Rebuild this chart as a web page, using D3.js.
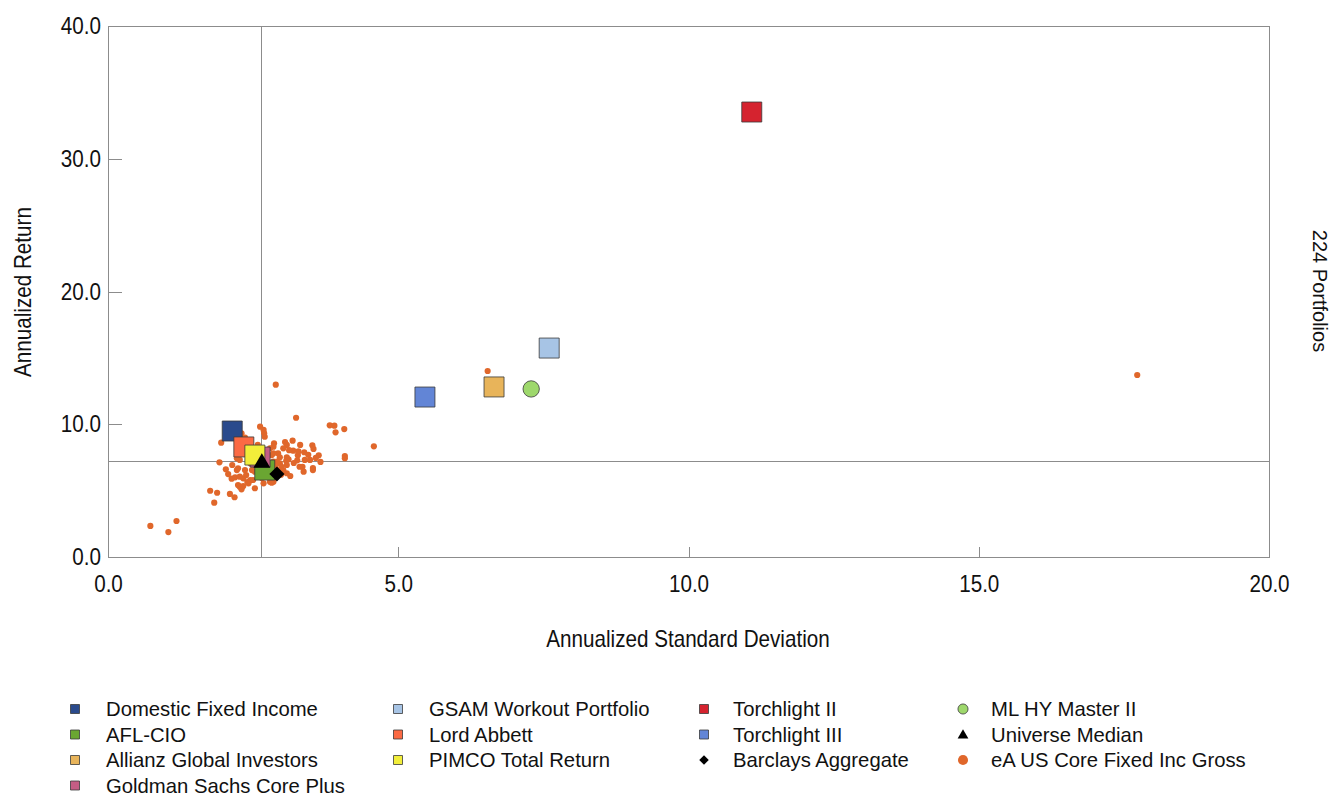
<!DOCTYPE html>
<html>
<head>
<meta charset="utf-8">
<script src="https://cdn.jsdelivr.net/npm/d3@7"></script>
<style>
  html, body { margin: 0; padding: 0; background: #fff; }
  svg { display: block; }
  .narrow { font-family: "Liberation Sans", Arial, sans-serif; }
  .reg { font-family: "Liberation Sans", Arial, sans-serif; }
</style>
</head>
<body>
<svg id="chart" width="1330" height="796"></svg>
<script>
// ---------- data ----------
const xTicks = [0, 5, 10, 15, 20];
const yTicks = [0, 10, 20, 30, 40];
const xTitle = "Annualized Standard Deviation";
const yTitle = "Annualized Return";
const sideNote = "224 Portfolios";

const medianStd = 2.65;
const medianReturn = 7.16;

const seriesNames = ["Domestic Fixed Income", "AFL-CIO", "Allianz Global Investors", "Goldman Sachs Core Plus",
  "GSAM Workout Portfolio", "Lord Abbett", "PIMCO Total Return",
  "Torchlight II", "Torchlight III", "Barclays Aggregate",
  "ML HY Master II", "Universe Median", "eA US Core Fixed Inc Gross"];
const seriesStd = [2.14, 2.70, 6.65, 2.62, 7.60, 2.34, 2.53, 11.09, 5.46, 2.91, 7.29, 2.65, null];
const seriesReturn = [9.49, 6.55, 12.81, 7.53, 15.74, 8.29, 7.68, 33.52, 12.05, 6.25, 12.66, 7.16, null];
const seriesColors = ["#2a4a8c", "#6aa632", "#e8b45a", "#c45d85", "#a7c4e5", "#fb6a44", "#f2ee3a",
  "#d5232f", "#6285d6", "#000000", "#9ed86c", "#000000", "#e0672b"];
const seriesShapes = ["square", "square", "square", "square", "square", "square", "square",
  "square", "square", "diamond", "circle", "triangle", "dot"];

const universeStd = [2.89, 3.24, 3.82, 3.90, 4.07, 3.92, 4.58, 2.62, 2.68, 2.69, 2.70, 1.95, 2.30, 2.86, 2.85,
  3.05, 3.08, 3.18, 3.02, 3.19, 3.38, 3.52, 3.54, 3.63, 3.27, 3.08, 3.07, 3.11, 2.93, 2.96, 2.85, 3.48, 3.66,
  4.08, 4.08, 3.26, 3.30, 3.35, 3.53, 3.37, 3.08, 3.08, 1.92, 2.03, 2.22, 2.13, 2.19, 2.27, 2.33, 2.24, 2.27,
  2.42, 2.45, 2.53, 2.50, 2.68, 2.79, 2.85, 1.76, 1.88, 2.10, 2.18, 1.83, 1.18, 0.73, 1.04, 2.27, 2.22, 2.45,
  2.36, 2.48, 2.53, 2.68, 2.59, 2.96, 3.02, 2.24, 2.42, 2.79, 2.82, 2.85, 2.36, 2.91, 2.88, 2.99, 2.96, 2.33,
  2.82, 3.53, 6.54, 17.73, 2.58, 2.72, 2.76, 2.65, 2.14, 2.07, 2.38, 2.55, 3.14, 3.20, 3.31, 3.39, 3.58,
  3.45, 3.12, 2.98, 3.28, 2.40, 2.30];
const universeReturn = [12.98, 10.49, 9.92, 9.89, 9.64, 9.39, 8.34, 9.82, 9.57, 9.32, 9.06, 8.61, 9.32, 8.56, 8.31,
  8.66, 8.44, 8.76, 8.19, 8.01, 7.89, 8.41, 8.14, 7.66, 7.66, 7.51, 7.25, 7.36, 7.81, 7.51, 7.81, 7.31, 7.16,
  7.61, 7.44, 7.28, 6.80, 6.80, 6.70, 6.43, 6.93, 6.31, 7.13, 6.61, 6.55, 5.90, 6.00, 6.05, 5.93, 5.42, 5.30,
  5.55, 5.80, 5.18, 5.80, 5.55, 5.67, 5.67, 4.99, 4.84, 4.75, 4.50, 4.09, 2.71, 2.34, 1.88, 7.31, 7.44, 7.06,
  6.55, 6.55, 6.43, 6.31, 6.05, 7.06, 6.55, 6.68, 7.18, 8.19, 7.68, 7.18, 8.99, 7.18, 6.80, 6.80, 6.55, 5.35,
  5.60, 6.55, 14.01, 13.71, 8.44, 6.86, 6.10, 5.95, 6.93, 6.25, 6.17, 6.93, 6.10, 7.08, 8.44, 7.31, 7.46,
  7.70, 8.05, 6.20, 7.95, 5.65, 5.10];

// ---------- layout ----------
(function () {
const svg = d3.select("#chart");
const pL = 108, pR = 1269, pT = 26, pB = 557;
const x = d3.scaleLinear().domain([0, 20]).range([pL, pR]);
const y = d3.scaleLinear().domain([0, 40]).range([pB, pT]);
const gridColor = "#8c8c8c";
const condense = 0.86;

function narrowText(sel) {
  sel.each(function () {
    const w = this.getComputedTextLength();
    d3.select(this).attr("textLength", w * condense).attr("lengthAdjust", "spacingAndGlyphs");
  });
}

// frame
svg.append("rect").attr("x", pL).attr("y", pT).attr("width", pR - pL).attr("height", pB - pT)
  .attr("fill", "none").attr("stroke", gridColor).attr("stroke-width", 1).attr("shape-rendering", "crispEdges");

// axes
const fmt = d3.format(".1f");
const gy = svg.append("g").attr("transform", `translate(${pL},0)`)
  .call(d3.axisLeft(y).tickValues(yTicks).tickSize(-14).tickPadding(7).tickFormat(fmt));
const gx = svg.append("g").attr("transform", `translate(0,${pB})`)
  .call(d3.axisBottom(x).tickValues(xTicks).tickSize(-10).tickPadding(18).tickFormat(fmt));
[gx, gy].forEach(g => {
  g.select(".domain").remove();
  g.selectAll(".tick line").attr("stroke", gridColor).attr("shape-rendering", "crispEdges");
  g.selectAll(".tick text").attr("class", "narrow").attr("font-size", 24).attr("fill", "#111").call(narrowText);
});

// median crosshair
svg.append("line").attr("x1", x(medianStd)).attr("x2", x(medianStd)).attr("y1", pT).attr("y2", pB)
  .attr("stroke", gridColor).attr("shape-rendering", "crispEdges");
svg.append("line").attr("x1", pL).attr("x2", pR).attr("y1", y(medianReturn)).attr("y2", y(medianReturn))
  .attr("stroke", gridColor).attr("shape-rendering", "crispEdges");

// titles
svg.append("text").attr("class", "narrow").attr("x", 688).attr("y", 647)
  .attr("text-anchor", "middle").attr("font-size", 24).attr("fill", "#111").text(xTitle).call(narrowText);
svg.append("text").attr("class", "narrow").attr("transform", `translate(31,292) rotate(-90)`)
  .attr("text-anchor", "middle").attr("font-size", 24).attr("fill", "#111").text(yTitle).call(narrowText);
svg.append("text").attr("class", "reg").attr("transform", `translate(1313,291) rotate(90)`)
  .attr("text-anchor", "middle").attr("font-size", 20).attr("fill", "#111").text(sideNote);

// universe dots
const universe = universeStd.map((s, i) => ({ s, r: universeReturn[i] }));
svg.append("g").selectAll("circle").data(universe).join("circle")
  .attr("cx", d => x(d.s)).attr("cy", d => y(d.r)).attr("r", 3.1)
  .attr("fill", seriesColors[12]);

// symbol generator
function symPath(shape, big) {
  const s = d3.symbol();
  if (shape === "square") return s.type(d3.symbolSquare).size(big ? 400 : 81)();
  if (shape === "diamond") return s.type(d3.symbolSquare).size(big ? 115 : 45)();
  if (shape === "circle") return s.type(d3.symbolCircle).size(big ? 210 : 80)();
  if (shape === "triangle") return s.type(d3.symbolTriangle).size(big ? 125 : 50)();
  return s.type(d3.symbolCircle).size(big ? 30 : 80)();
}

// series markers
const series = seriesNames.map((n, i) => ({ n, s: seriesStd[i], r: seriesReturn[i], c: seriesColors[i], shape: seriesShapes[i] }))
  .filter(d => d.s !== null);
svg.append("g").selectAll("path").data(series).join("path")
  .attr("d", d => symPath(d.shape, true))
  .attr("transform", d => `translate(${x(d.s)},${y(d.r)})` + (d.shape === "diamond" ? " rotate(45)" : "") + (d.shape === "triangle" ? " translate(0,1)" : ""))
  .attr("fill", d => d.c)
  .attr("stroke", d => d.shape === "square" || d.shape === "circle" ? "#3a3a3a" : "none")
  .attr("stroke-width", 0.8);

// legend
const colStart = [0, 4, 7, 10];
const colX = [75, 398, 704, 963];
const textX = [106, 429, 733, 991];
const rowY = [709, 734.5, 760, 785.5];
const legend = svg.append("g");
seriesNames.forEach((n, i) => {
  let col = 0;
  for (let k = 0; k < colStart.length; k++) if (i >= colStart[k]) col = k;
  const row = i - colStart[col];
  const shape = seriesShapes[i];
  legend.append("path").attr("d", symPath(shape, false))
    .attr("transform", `translate(${colX[col]},${rowY[row]})` + (shape === "diamond" ? " rotate(45)" : (shape === "triangle" ? " translate(0,1)" : "")))
    .attr("fill", seriesColors[i])
    .attr("stroke", shape === "square" || shape === "circle" ? "#3a3a3a" : "none")
    .attr("stroke-width", 0.8);
  legend.append("text").attr("class", "reg").attr("x", textX[col]).attr("y", rowY[row] + 7)
    .attr("font-size", 20.3).attr("fill", "#111").text(n);
});
})();
</script>
</body>
</html>
